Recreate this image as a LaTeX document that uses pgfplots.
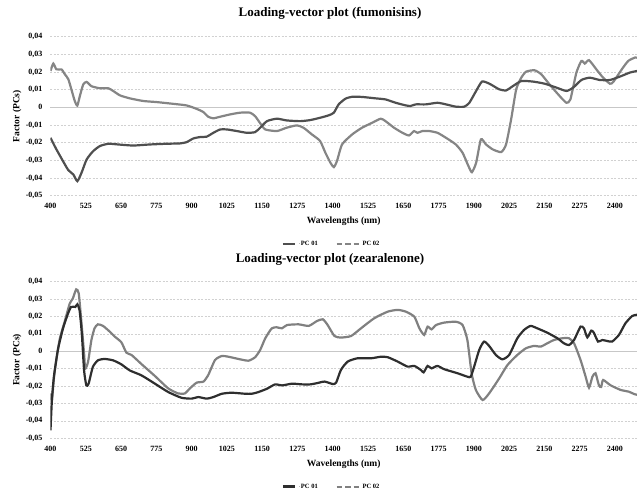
\documentclass[border=0pt]{standalone}
\usepackage{fontspec}
\setmainfont{Liberation Serif}
\usepackage{pgfplots}
\pgfplotsset{compat=1.18}
\definecolor{topone}{HTML}{4F4F4F}
\definecolor{toptwo}{HTML}{858585}
\definecolor{botone}{HTML}{2E2E2E}
\definecolor{bottwo}{HTML}{808080}
\pgfplotsset{
  loadstyle/.style={
    scale only axis, width=586.5pt,
    xmin=400, xmax=2478, ymin=-0.05, ymax=0.04,
    xtick={400,525,650,775,900,1025,1150,1275,1400,1525,1650,1775,1900,2025,2150,2275,2400},
    ytick={-0.05,-0.04,-0.03,-0.02,-0.01,0,0.01,0.02,0.03,0.04},
    scaled y ticks=false,
    ymajorgrids,
    major grid style={dash pattern=on 2pt off 1.5pt, black!18, line width=0.5pt},
    extra y ticks={0}, extra y tick labels={},
    extra y tick style={grid=major, major grid style={solid, black!22, line width=0.9pt}},
    axis line style={draw=none},
    major tick length=0pt,
    tick label style={font=\bfseries\fontsize{8}{9}\selectfont},
    /pgf/number format/assume math mode=true,
    x tick label style={/pgf/number format/1000 sep={}, yshift=-4pt},
    y tick label style={/pgf/number format/use comma, /pgf/number format/fixed, /pgf/number format/precision=2, xshift=-4.5pt},
    xlabel={Wavelengths (nm)}, ylabel={Factor (PCs)},
    label style={font=\bfseries\fontsize{9.5}{11}\selectfont},
    xlabel style={at={(axis description cs:0.5,0)}, anchor=center, yshift=-25.5pt},
    ylabel style={at={(axis description cs:0,0.5)}, anchor=center, yshift=33.5pt},
    title style={font=\bfseries\fontsize{13}{15}\selectfont, at={(axis description cs:0.4766,1)}, anchor=center, yshift=17.7pt},
    legend columns=2,
    legend style={draw=none, fill=none, font=\bfseries\fontsize{6.5}{7}\selectfont, anchor=center,
      /tikz/every even column/.append style={column sep=16pt}},
  }
}
\begin{document}
\begin{tikzpicture}
\useasboundingbox (-50.5pt,-52.7pt) rectangle (586.5pt,438.3pt);
% top axis
\begin{axis}[loadstyle, at={(0pt,242.6pt)}, anchor=south west, height=159pt,
  title={Loading-vector plot (fumonisins)},
  legend style={at={(0.479,-0.304)}}]
\addplot[toptwo, line width=2.2pt, smooth, tension=0.35, forget plot] coordinates {
(400,0.0206)(410,0.0248)(421,0.0215)(439,0.0215)(451,0.0187)(463,0.016)(474,0.0102)(486,0.0036)(495,0.001)(504,0.0064)(516,0.013)(528,0.0144)(545,0.012)(575,0.0108)(605,0.0108)(622,0.0093)(646,0.0068)(681,0.0051)(729,0.0036)(776,0.003)(835,0.002)(882,0.0011)(917,-0.0008)(941,-0.0026)(959,-0.0053)(977,-0.0062)(1001,-0.0053)(1036,-0.004)(1072,-0.003)(1107,-0.003)(1125,-0.005)(1143,-0.009)(1161,-0.0125)(1202,-0.0134)(1237,-0.0115)(1273,-0.0102)(1296,-0.0115)(1326,-0.0153)(1355,-0.019)(1374,-0.0257)(1392,-0.0314)(1404,-0.0338)(1415,-0.0304)(1433,-0.021)(1469,-0.0153)(1504,-0.0115)(1540,-0.0087)(1570,-0.0064)(1587,-0.0078)(1617,-0.0115)(1647,-0.0144)(1670,-0.0159)(1688,-0.0134)(1700,-0.0144)(1718,-0.0134)(1742,-0.0134)(1771,-0.0144)(1801,-0.0172)(1836,-0.021)(1860,-0.0257)(1881,-0.0333)(1893,-0.0367)(1908,-0.0314)(1925,-0.0181)(1943,-0.021)(1967,-0.0238)(1997,-0.0253)(2014,-0.021)(2032,-0.0068)(2050,0.0102)(2068,0.0168)(2085,0.0202)(2115,0.021)(2139,0.0187)(2168,0.013)(2204,0.0064)(2228,0.0026)(2242,0.0045)(2263,0.0195)(2281,0.0263)(2293,0.0248)(2308,0.0267)(2334,0.0215)(2358,0.0168)(2382,0.0134)(2394,0.0144)(2424,0.0215)(2447,0.0263)(2471,0.0282)(2478,0.028)
};
\addplot[topone, line width=2.2pt, smooth, tension=0.35, forget plot] coordinates {
(400,-0.0172)(418,-0.0229)(441,-0.0295)(463,-0.0355)(481,-0.038)(495,-0.0418)(510,-0.037)(528,-0.0295)(551,-0.0248)(575,-0.0219)(605,-0.0206)(640,-0.021)(693,-0.0216)(752,-0.021)(811,-0.0206)(859,-0.0204)(882,-0.0197)(906,-0.0176)(930,-0.0168)(953,-0.0166)(977,-0.0144)(1001,-0.0125)(1025,-0.0125)(1060,-0.0134)(1096,-0.0144)(1125,-0.014)(1143,-0.0115)(1167,-0.0078)(1202,-0.0064)(1237,-0.0074)(1285,-0.0078)(1320,-0.0072)(1355,-0.0059)(1386,-0.0045)(1404,-0.003)(1421,0.0017)(1445,0.0049)(1469,0.006)(1504,0.0059)(1552,0.0051)(1587,0.0045)(1623,0.0026)(1659,0.0011)(1676,0.0008)(1694,0.0017)(1730,0.0017)(1771,0.0026)(1801,0.0017)(1836,0.0004)(1866,0.0004)(1884,0.0026)(1908,0.0093)(1929,0.0146)(1955,0.0134)(1990,0.0102)(2014,0.0096)(2038,0.012)(2068,0.0149)(2109,0.0146)(2151,0.0134)(2192,0.0112)(2228,0.0093)(2252,0.0112)(2281,0.0155)(2311,0.0168)(2346,0.0155)(2382,0.0155)(2417,0.0174)(2453,0.0197)(2478,0.0206)
};
\addlegendimage{legend image code/.code={\draw[topone, line width=2.6pt] (0pt,0pt) -- (12.6pt,0pt);}}
\addlegendentry{$\cdot$PC 01}
\addlegendimage{legend image code/.code={\draw[toptwo, line width=1.8pt, dash pattern=on 5.5pt off 3pt] (0pt,0pt) -- (23pt,0pt);}}
\addlegendentry{PC 02}
\end{axis}
% bottom axis
\begin{axis}[loadstyle, at={(0pt,0pt)}, anchor=south west, height=156.6pt,
  title={Loading-vector plot (zearalenone)},
  title style={yshift=-1pt},
  legend style={at={(0.479,-0.309)}}]
\addplot[bottwo, line width=2.2pt, smooth, tension=0.35, forget plot] coordinates {
(400,-0.0242)(405,-0.028)(414,-0.0126)(432,0.0065)(450,0.0169)(468,0.0274)(479,0.0303)(491,0.0356)(500,0.0333)(509,0.0178)(519,-0.0013)(523,-0.01)(533,-0.0061)(545,0.0065)(556,0.0132)(568,0.0155)(586,0.0146)(610,0.0113)(628,0.0084)(651,0.0052)(669,-0.0008)(687,-0.0021)(722,-0.0073)(770,-0.0142)(817,-0.0213)(852,-0.0242)(876,-0.0242)(894,-0.0213)(918,-0.018)(942,-0.0174)(959,-0.0136)(983,-0.005)(1007,-0.0027)(1030,-0.0031)(1066,-0.0044)(1101,-0.0054)(1125,-0.0034)(1143,0.0008)(1161,0.0075)(1184,0.0132)(1202,0.0138)(1220,0.0132)(1238,0.0151)(1279,0.0155)(1315,0.0146)(1344,0.0174)(1365,0.0184)(1382,0.0151)(1406,0.0088)(1429,0.0079)(1465,0.0088)(1500,0.0132)(1547,0.019)(1595,0.0228)(1630,0.0238)(1659,0.0228)(1689,0.0199)(1707,0.0132)(1724,0.0094)(1736,0.0142)(1750,0.0126)(1766,0.0151)(1795,0.0165)(1836,0.017)(1860,0.0151)(1877,0.0065)(1892,-0.0126)(1907,-0.0222)(1931,-0.028)(1954,-0.0242)(1990,-0.0155)(2019,-0.0079)(2054,-0.0021)(2084,0.0017)(2113,0.0031)(2137,0.0027)(2160,0.0046)(2184,0.0065)(2213,0.0075)(2237,0.0075)(2255,0.0046)(2278,-0.005)(2296,-0.0146)(2308,-0.0209)(2320,-0.0146)(2331,-0.0126)(2343,-0.0195)(2351,-0.0205)(2358,-0.0165)(2384,-0.0195)(2420,-0.0222)(2449,-0.0232)(2467,-0.0245)(2478,-0.025)
};
\addplot[botone, line width=2.2pt, smooth, tension=0.35, forget plot] coordinates {
(400,-0.0454)(405,-0.028)(412,-0.0147)(426,0.0007)(444,0.013)(462,0.0217)(473,0.0255)(488,0.0255)(495,0.027)(503,0.0236)(511,0.0102)(519,-0.011)(527,-0.0196)(535,-0.0186)(550,-0.009)(568,-0.0052)(592,-0.0044)(622,-0.0052)(651,-0.0075)(681,-0.011)(722,-0.0138)(770,-0.0186)(817,-0.0234)(864,-0.0267)(900,-0.0272)(924,-0.0263)(953,-0.0272)(977,-0.0263)(1007,-0.0244)(1042,-0.0238)(1090,-0.0244)(1113,-0.0244)(1137,-0.0234)(1167,-0.0215)(1196,-0.019)(1220,-0.0196)(1256,-0.0186)(1291,-0.019)(1321,-0.019)(1347,-0.0182)(1371,-0.0174)(1400,-0.0188)(1412,-0.018)(1429,-0.0107)(1453,-0.0059)(1488,-0.004)(1536,-0.004)(1571,-0.0031)(1595,-0.0034)(1630,-0.0059)(1665,-0.0088)(1689,-0.0084)(1712,-0.0107)(1722,-0.0121)(1736,-0.0084)(1750,-0.0098)(1771,-0.0084)(1795,-0.0103)(1842,-0.0126)(1877,-0.0146)(1889,-0.0146)(1901,-0.0088)(1919,0.0008)(1936,0.0056)(1954,0.0031)(1978,-0.0021)(2001,-0.0046)(2025,-0.0021)(2054,0.0075)(2078,0.0123)(2101,0.0146)(2125,0.0132)(2160,0.0107)(2196,0.0075)(2219,0.0046)(2237,0.0036)(2255,0.0065)(2278,0.0142)(2290,0.0132)(2302,0.008)(2316,0.0119)(2325,0.0107)(2340,0.0056)(2355,0.0065)(2373,0.0059)(2390,0.0056)(2414,0.0094)(2437,0.0161)(2461,0.0203)(2478,0.021)
};
\addlegendimage{legend image code/.code={\draw[botone, line width=2.6pt] (0pt,0pt) -- (12.6pt,0pt);}}
\addlegendentry{$\cdot$PC 01}
\addlegendimage{legend image code/.code={\draw[bottwo, line width=1.8pt, dash pattern=on 5.5pt off 3pt] (0pt,0pt) -- (23pt,0pt);}}
\addlegendentry{PC 02}
\end{axis}
\end{tikzpicture}
\end{document}
